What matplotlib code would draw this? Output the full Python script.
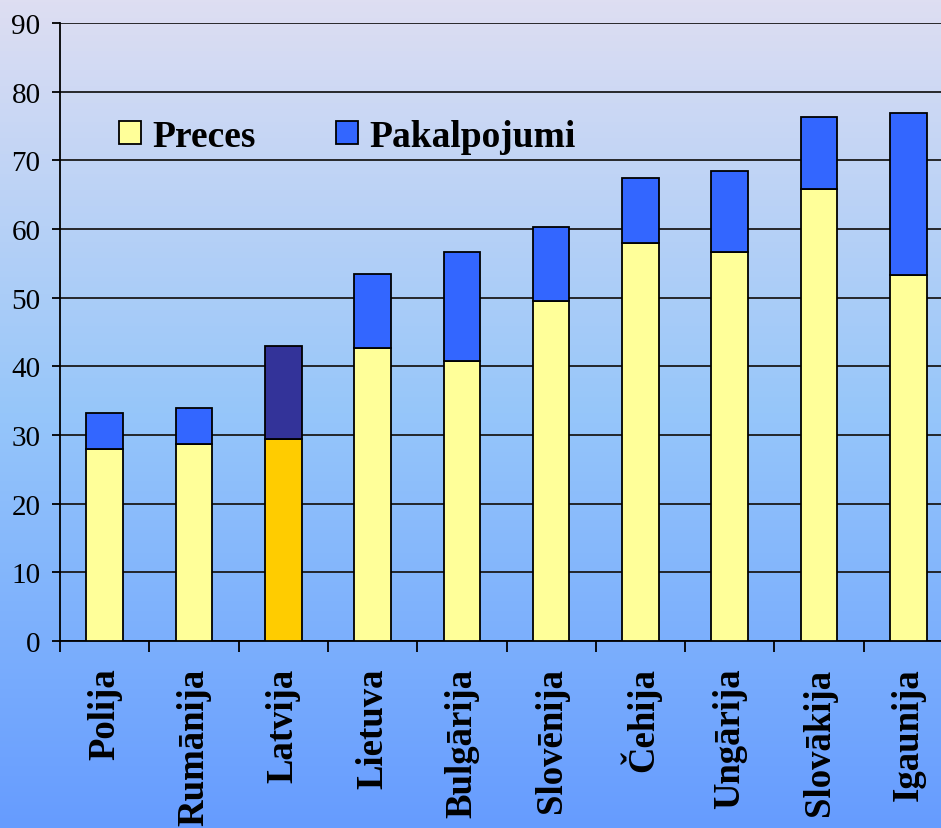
import numpy as np
import matplotlib
matplotlib.use('Agg')
import matplotlib.pyplot as plt
from matplotlib.colors import LinearSegmentedColormap

# data
countries = ['Polija', 'Rumānija', 'Latvija', 'Lietuva', 'Bulgārija',
             'Slovēnija', 'Čehija', 'Ungārija', 'Slovākija', 'Igaunija']
preces = [27.9, 28.7, 29.4, 42.6, 40.8, 49.5, 57.9, 56.6, 65.8, 53.3]
kopa = [33.2, 33.9, 42.9, 53.4, 56.6, 60.3, 67.4, 68.4, 76.3, 76.9]
pakalpojumi = [t - p for t, p in zip(kopa, preces)]
yticks = list(range(0, 100, 10))

plt.rcParams['font.family'] = ['Liberation Serif', 'DejaVu Serif']

W, H = 941, 829
fig = plt.figure(figsize=(W / 100, H / 100), dpi=100)

# gradient background over whole figure
bg = fig.add_axes([0, 0, 1, 1], zorder=-10)
cmap = LinearSegmentedColormap.from_list(
    'bg', [(0.0, '#DEDEF2'), (0.5, '#96C6FA'), (1.0, '#669CFF')])
grad = np.linspace(0, 1, 256).reshape(-1, 1)
bg.imshow(grad, aspect='auto', cmap=cmap, extent=[0, 1, 0, 1], origin='upper')
bg.axis('off')

ax = fig.add_axes([60 / W, 1 - 642 / H, 1 - 60 / W, (642 - 24) / H])
ax.patch.set_alpha(0)

x = np.arange(len(countries))
c_low = ['#FFFF99'] * len(countries)
c_high = ['#3366FF'] * len(countries)
c_low[2] = '#FFCC00'
c_high[2] = '#333399'

b1 = ax.bar(x, preces, width=0.41, color=c_low, edgecolor='black', linewidth=1.3, zorder=3)
b2 = ax.bar(x, pakalpojumi, bottom=preces, width=0.41, color=c_high,
            edgecolor='black', linewidth=1.3, zorder=3)

ax.set_yticks(yticks)
ax.yaxis.grid(True, color='#1a1a1a', linewidth=1.3, zorder=1)
ax.set_axisbelow(True)

for s in ['top', 'right']:
    ax.spines[s].set_visible(False)
ax.spines['left'].set_linewidth(1.3)
ax.spines['bottom'].set_linewidth(1.3)

ax.set_xticks(x)
ax.set_xticklabels(countries, rotation=90, fontsize=26.5, fontweight='bold', va='top')
ax.tick_params(axis='x', which='major', length=0, pad=19)
ax.set_xticks(np.arange(-0.5, len(countries), 1), minor=True)
ax.tick_params(axis='x', which='minor', length=8, width=1.3, direction='out')
ax.tick_params(axis='y', labelsize=21, length=6, width=1.3, pad=8)

# limits last, set_xticks would widen them
step = 89.3
ax.set_xlim(-0.5, (W - 60) / step - 0.5)
ax.set_ylim(0, 90)

leg = ax.legend([b1[0], b2[0]], ['Preces', 'Pakalpojumi'], ncol=2, frameon=False,
                prop={'size': 27, 'weight': 'bold'}, handlelength=0.58, handleheight=0.58,
                handletextpad=0.3, columnspacing=2.15, borderpad=0, borderaxespad=0,
                loc='upper left', bbox_to_anchor=(119 / W, 1 - 120 / H),
                bbox_transform=fig.transFigure)
leg.legend_handles[0].set_facecolor('#FFFF99')
leg.legend_handles[1].set_facecolor('#3366FF')

fig.savefig('out.png', dpi=100)
